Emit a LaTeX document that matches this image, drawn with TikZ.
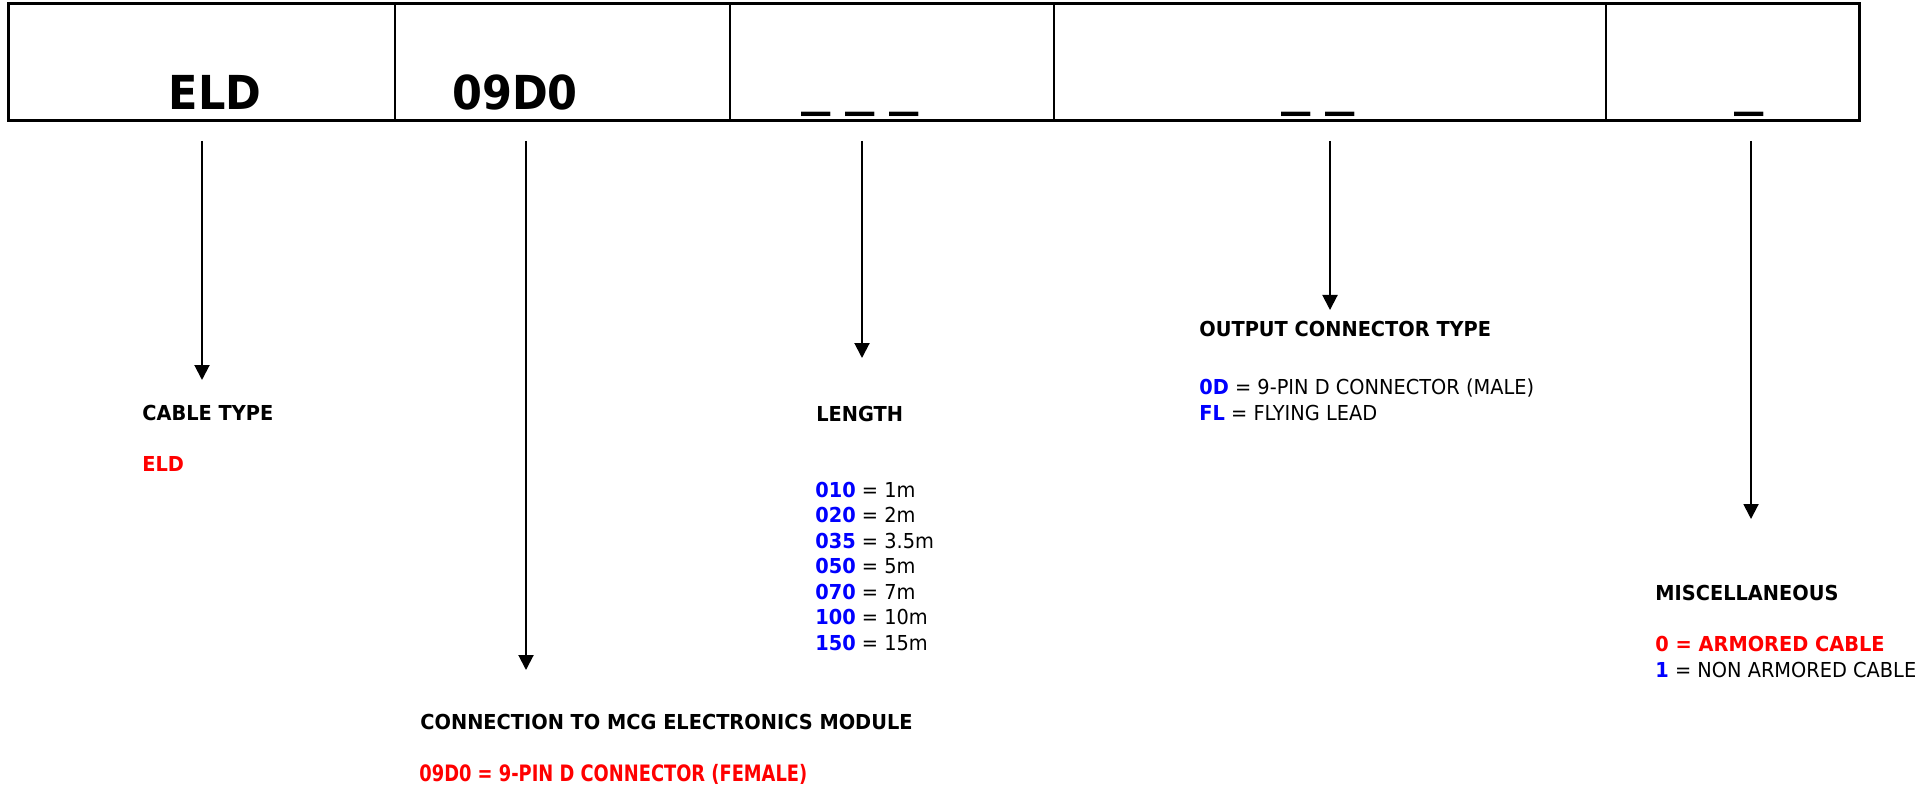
\documentclass[tikz,border=0pt]{standalone}
\usepackage{fontspec}
\setmainfont{DejaVu Sans}[FakeStretch=0.94]
\newfontfamily\fieldfont{DejaVu Sans}[FakeStretch=0.92]
\newfontfamily\narrowfont{DejaVu Sans}[FakeStretch=0.79]
\usepackage{xcolor}
\usetikzlibrary{arrows.meta}
\definecolor{codeblue}{RGB}{0,0,255}
\definecolor{codered}{RGB}{255,0,0}
\newcommand{\cb}[1]{\textbf{\textcolor{codeblue}{#1}}}
\newcommand{\dsh}{\scalebox{1.36}[1]{\_}}

\begin{document}
\begin{tikzpicture}[x=0.5pt, y=-0.5pt,
          fieldtxt/.style={font=\fieldfont\fontsize{23.4}{28}\selectfont\bfseries, anchor=base, inner sep=0pt},
          head/.style={font=\bfseries, anchor=base west, inner sep=0pt},
          vals/.style={anchor=base west, align=left, inner sep=0pt},
          ptr/.style={line width=1pt, -{Triangle[width=7.5pt,length=7.5pt]}},
        ]
        \fontsize{10.3}{12.75}\selectfont
        \useasboundingbox (0,0) rectangle (1927,786);
        % part number fields
        \draw[line width=1.5pt] (8,4) rectangle (1859,121);
        \foreach \x in {395,730,1054,1606}
          \draw[line width=1.2pt] (\x,4) -- (\x,121);
        \node[fieldtxt] (fEld) at (215,110) {ELD};
        \node[fieldtxt] (fConn) at (515,110) {09D0};
        \node[fieldtxt, anchor=south] (fLen) at (860,117) {\dsh\ \dsh\ \dsh};
        \node[fieldtxt, anchor=south] (fOut) at (1318,117) {\dsh\ \dsh};
        \node[fieldtxt, anchor=south] (fMisc) at (1749,117) {\dsh};
        % pointers
        \coordinate (eldTop) at (202,141);   \coordinate (eldTip) at (202,380);
        \coordinate (connTop) at (526,141);  \coordinate (connTip) at (526,670);
        \coordinate (lenTop) at (862,141);   \coordinate (lenTip) at (862,358);
        \coordinate (outTop) at (1330,141);  \coordinate (outTip) at (1330,310);
        \coordinate (miscTop) at (1751,141); \coordinate (miscTip) at (1751,519);
        \draw[ptr] (eldTop) -- (eldTip);
        \draw[ptr] (connTop) -- (connTip);
        \draw[ptr] (lenTop) -- (lenTip);
        \draw[ptr] (outTop) -- (outTip);
        \draw[ptr] (miscTop) -- (miscTip);
        % descriptions (multi-line nodes sit on their last line)
        \node[head] (hCable) at (142,420) {CABLE TYPE};
        \node[head, text=codered] (vCable) at (142,471) {ELD};
        \node[head] (hConn) at (420,729) {CONNECTION TO MCG ELECTRONICS MODULE};
        \node[head, font=\narrowfont\fontsize{11.3}{13}\selectfont\bfseries, text=codered] (vConn) at (419,781) {09D0 = 9-PIN D CONNECTOR (FEMALE)};
        \node[head] (hLen) at (816,421) {LENGTH};
        \node[vals] (vLen) at (815,650) {\cb{010} = 1m\\ \cb{020} = 2m\\ \cb{035} = 3.5m\\
          \cb{050} = 5m\\ \cb{070} = 7m\\ \cb{100} = 10m\\ \cb{150} = 15m};
        \node[head] (hOut) at (1199,336) {OUTPUT CONNECTOR TYPE};
        \node[vals] (vOut) at (1199,420) {\cb{0D} = 9-PIN D CONNECTOR (MALE)\\ \cb{FL} = FLYING LEAD};
        \node[head] (hMisc) at (1655,600) {MISCELLANEOUS};
        \node[vals] (vMisc) at (1655,677) {\textcolor{codered}{\textbf{0 = ARMORED CABLE}}\\ \cb{1} = NON ARMORED CABLE};
      \end{tikzpicture}
\end{document}
